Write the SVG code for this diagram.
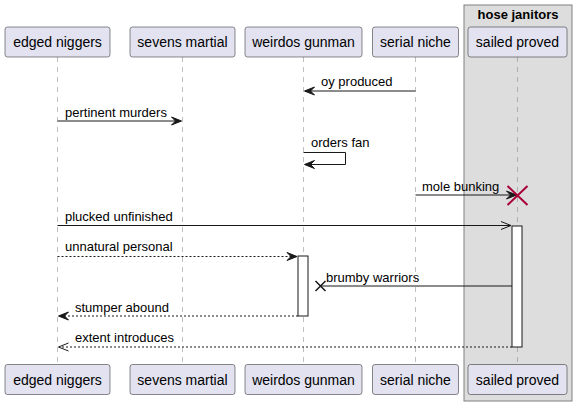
<svg xmlns="http://www.w3.org/2000/svg" width="576" height="405" viewBox="0 0 576 405">
<style>
.p rect{fill:#E2E2F0;stroke:#181818;stroke-width:0.5}
.p text{font-family:"Liberation Sans",Arial,sans-serif;font-size:14px;fill:#000;text-anchor:middle}
.life{stroke:#808080;stroke-width:0.5;stroke-dasharray:5,5;fill:none}
.m{stroke:#181818;stroke-width:1;fill:none}
.d{stroke-dasharray:2,2}
.ah{fill:#181818;stroke:#181818;stroke-width:1}
.lbl{font-family:"Liberation Sans",Arial,sans-serif;font-size:13px;fill:#000}
.act{fill:#FFFFFF;stroke:#181818;stroke-width:1}
</style>
<g id="group-hose-janitors">
<rect x="464" y="5" width="108" height="396" fill="#DDDDDD" stroke="#808080" stroke-width="1"/>
<text x="518" y="19" font-family="Liberation Sans,Arial,sans-serif" font-size="13" font-weight="bold" text-anchor="middle">hose janitors</text>
</g>
<g id="lifelines">
<line class="life" x1="57.5" y1="57" x2="57.5" y2="364"/>
<line class="life" x1="182.5" y1="57" x2="182.5" y2="364"/>
<line class="life" x1="303.5" y1="57" x2="303.5" y2="364"/>
<line class="life" x1="415.5" y1="57" x2="415.5" y2="364"/>
<line class="life" x1="517.5" y1="57" x2="517.5" y2="364"/>
</g>
<g id="activations">
<rect class="act" x="512" y="226" width="10" height="121"/>
<rect class="act" x="298" y="256" width="10" height="60"/>
</g>
<g id="node-edged-niggers" class="p">
<rect x="5" y="27" width="105" height="30" rx="2.5"/>
<text x="57.5" y="47">edged niggers</text>
<rect x="5" y="364.5" width="105" height="30" rx="2.5"/>
<text x="57.5" y="384.5">edged niggers</text>
</g>
<g id="node-sevens-martial" class="p">
<rect x="130" y="27" width="105" height="30" rx="2.5"/>
<text x="182.5" y="47">sevens martial</text>
<rect x="130" y="364.5" width="105" height="30" rx="2.5"/>
<text x="182.5" y="384.5">sevens martial</text>
</g>
<g id="node-weirdos-gunman" class="p">
<rect x="245" y="27" width="117" height="30" rx="2.5"/>
<text x="303.5" y="47">weirdos gunman</text>
<rect x="245" y="364.5" width="117" height="30" rx="2.5"/>
<text x="303.5" y="384.5">weirdos gunman</text>
</g>
<g id="node-serial-niche" class="p">
<rect x="372.5" y="27" width="86" height="30" rx="2.5"/>
<text x="415.5" y="47">serial niche</text>
<rect x="372.5" y="364.5" width="86" height="30" rx="2.5"/>
<text x="415.5" y="384.5">serial niche</text>
</g>
<g id="node-sailed-proved" class="p">
<rect x="468" y="27" width="99" height="30" rx="2.5"/>
<text x="517.5" y="47">sailed proved</text>
<rect x="468" y="364.5" width="99" height="30" rx="2.5"/>
<text x="517.5" y="384.5">sailed proved</text>
</g>
<g id="connectors">
<!-- oy produced -->
<line class="m" x1="415.5" y1="91" x2="305" y2="91"/>
<polygon class="ah" points="304.5,91 314.5,87 310.5,91 314.5,95"/>
<text class="lbl" x="321" y="86">oy produced</text>
<!-- pertinent murders -->
<line class="m" x1="57.5" y1="121" x2="180" y2="121"/>
<polygon class="ah" points="181.5,121 171.5,117 175.5,121 171.5,125"/>
<text class="lbl" x="65" y="117">pertinent murders</text>
<!-- orders fan -->
<polyline class="m" points="303.5,152.5 345.5,152.5 345.5,164.5 305,164.5"/>
<polygon class="ah" points="304.5,164.5 314.5,160.5 310.5,164.5 314.5,168.5"/>
<text class="lbl" x="311" y="147">orders fan</text>
<!-- mole bunking -->
<line class="m" x1="415.5" y1="195" x2="515" y2="195"/>
<polygon class="ah" points="516.5,195 506.5,191 510.5,195 506.5,199"/>
<path d="M507.5,186 L527.5,205 M527.5,186 L507.5,205" stroke="#A80036" stroke-width="2" fill="none"/>
<text class="lbl" x="422" y="191">mole bunking</text>
<!-- plucked unfinished -->
<line class="m" x1="57.5" y1="225.5" x2="511" y2="225.5"/>
<path class="m" d="M501,221.5 L511,225.5 L501,229.5"/>
<text class="lbl" x="65" y="221">plucked unfinished</text>
<!-- unnatural personal -->
<line class="m d" x1="57.5" y1="256.5" x2="296" y2="256.5"/>
<polygon class="ah" points="297,256.5 287,252.5 291,256.5 287,260.5"/>
<text class="lbl" x="65" y="251">unnatural personal</text>
<!-- brumby warriors -->
<line class="m" x1="512" y1="286" x2="321" y2="286"/>
<path d="M315.5,281 L325.5,291 M325.5,281 L315.5,291" stroke="#181818" stroke-width="1.5" fill="none"/>
<text class="lbl" x="326" y="282">brumby warriors</text>
<!-- stumper abound -->
<line class="m d" x1="298" y1="316" x2="59" y2="316"/>
<polygon class="ah" points="58.5,316 68.5,312 64.5,316 68.5,320"/>
<text class="lbl" x="75" y="312">stumper abound</text>
<!-- extent introduces -->
<line class="m d" x1="512" y1="347" x2="59" y2="347"/>
<path class="m" d="M68.5,343 L58.5,347 L68.5,351"/>
<text class="lbl" x="75" y="342">extent introduces</text>
</g>
</svg>
